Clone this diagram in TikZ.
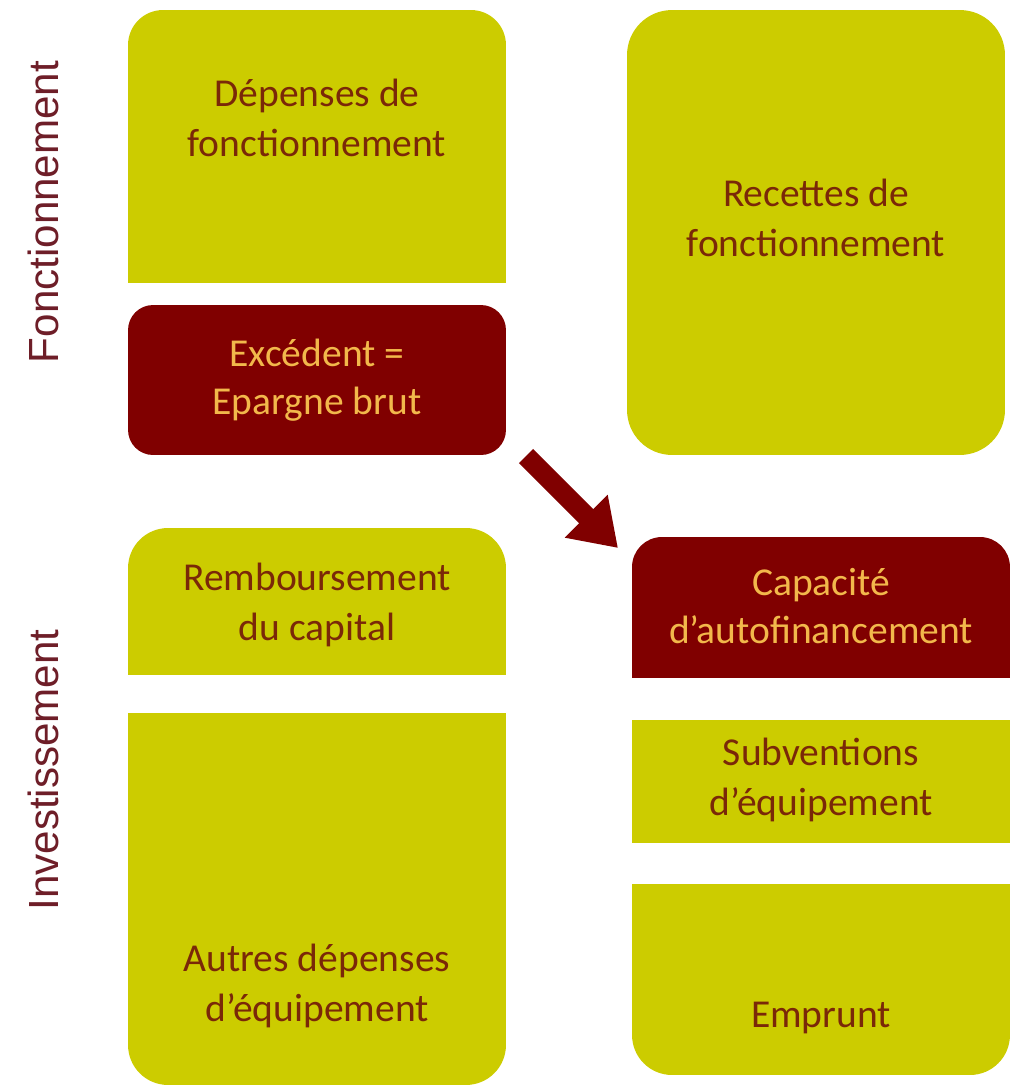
\documentclass[tikz,border=0pt]{standalone}
\usepackage{fontspec}
\setmainfont{Carlito}
\newfontfamily\sidefont{Liberation Sans}
\usetikzlibrary{arrows.meta}

\definecolor{budgetyellow}{RGB}{204,204,0}
\definecolor{budgetred}{RGB}{128,0,0}
\definecolor{inkbrown}{RGB}{122,40,8}
\definecolor{inkgold}{RGB}{242,184,75}
\definecolor{sidered}{RGB}{110,30,40}

\begin{document}
\begin{tikzpicture}[x=0.02cm, y=-0.02cm,
    block/.style={rectangle, inner sep=0pt, minimum width=7.56cm},
    yblock/.style={block, fill=budgetyellow},
    rblock/.style={block, fill=budgetred},
    ytext/.style={text=inkbrown, align=center, font=\fontsize{22.5}{28}\selectfont},
    rtext/.style={text=inkgold, align=center, font=\fontsize{22.5}{27}\selectfont},
    side/.style={text=sidered, rotate=90, font=\sidefont\fontsize{24}{28}\selectfont},
    flow/.style={draw=budgetred, line width=0.4cm, -{Triangle[width=1.15cm, length=0.9cm]}}
]
    \useasboundingbox (0,0) rectangle (1015,1089);

    \node[yblock, minimum height=5.46cm, rounded corners=0.7cm] (depbox) at (317,146.5) {};
    \fill[budgetyellow] (depbox.west) rectangle (depbox.south east);
    \node[rblock, minimum height=3cm, rounded corners=0.5cm] (excbox) at (317,380) {};
    \node[yblock, minimum height=8.9cm, rounded corners=0.9cm] (recbox) at (816,232.5) {};
    \node[yblock, minimum height=2.94cm, rounded corners=0.8cm] (rembbox) at (317,601.5) {};
    \fill[budgetyellow] (rembbox.west) rectangle (rembbox.south east);
    \node[yblock, minimum height=7.44cm, rounded corners=0.8cm] (autresbox) at (317,899) {};
    \fill[budgetyellow] (autresbox.north west) rectangle (autresbox.east);
    \node[rblock, minimum height=2.82cm, rounded corners=0.6cm] (capbox) at (821,607.5) {};
    \fill[budgetred] (capbox.west) rectangle (capbox.south east);
    \node[yblock, minimum height=2.46cm] (subvbox) at (821,781.5) {};
    \node[yblock, minimum height=3.82cm, rounded corners=0.8cm] (emprbox) at (821,979.5) {};
    \fill[budgetyellow] (emprbox.north west) rectangle (emprbox.east);

    \node[ytext] (dep) at (317,118) {Dépenses de\\fonctionnement};
    \node[rtext] (exc) at (317,380) {Excédent =\\Epargne brut};
    \node[ytext] (rec) at (816,218) {Recettes de\\fonctionnement};
    \node[ytext] (remb) at (317,605) {Remboursement\\du capital};
    \node[ytext] (autres) at (317,986) {Autres dépenses\\d’équipement};
    \node[rtext] (cap) at (821,606) {Capacité\\d’autofinancement};
    \node[ytext] (subv) at (821,780) {Subventions\\d’équipement};
    \node[ytext] (empr) at (821,1018) {Emprunt};

    \node[side] (fonct) at (43,212) {Fonctionnement};
    \node[side] (invest) at (43,770) {Investissement};

    \coordinate (flowtail) at (526,456);
    \coordinate (flowtip) at (618,548);
    \draw[flow] (flowtail) -- (flowtip);
\end{tikzpicture}
\end{document}
